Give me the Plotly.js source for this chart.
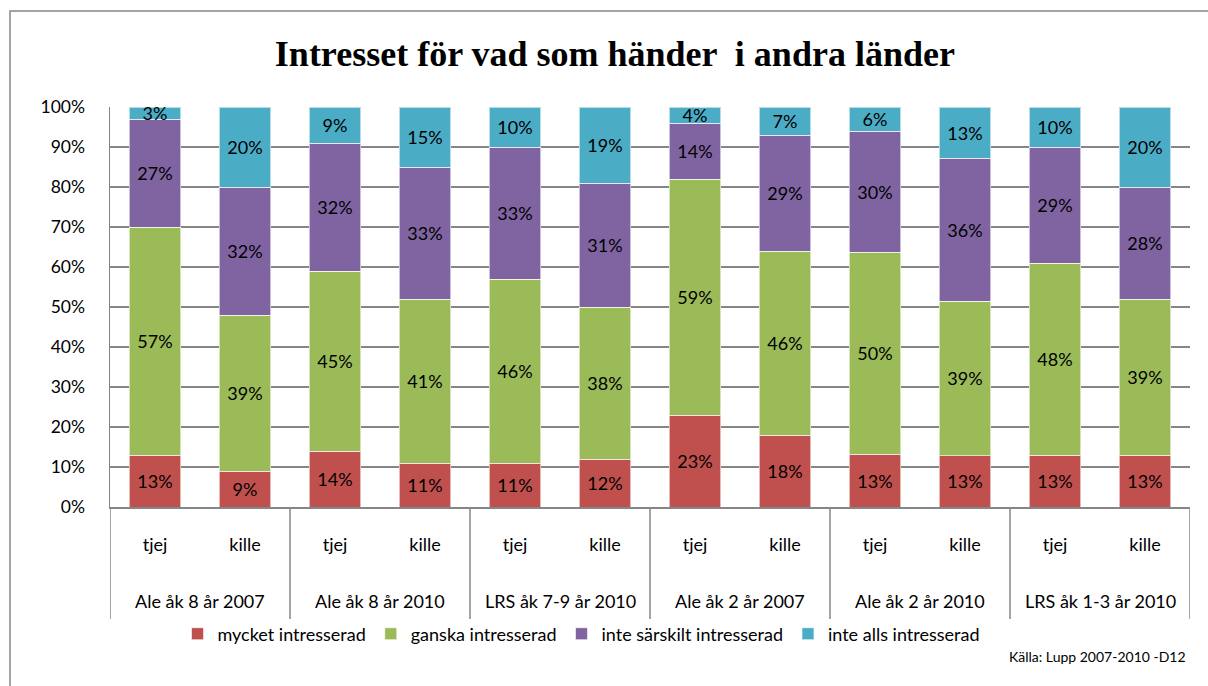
<!DOCTYPE html>
<html>
<head>
<meta charset="utf-8">
<script src="https://cdn.plot.ly/plotly-3.0.1.min.js"></script>
<style>
html,body{margin:0;padding:0;background:#fff;}
#chart{width:1208px;height:686px;}
</style>
</head>
<body>
<div id="chart"></div>
<script>
const groups = ["Ale åk 8 år 2007","Ale åk 8 år 2010","LRS åk 7-9 år 2010","Ale åk 2 år 2007","Ale åk 2 år 2010","LRS åk 1-3 år 2010"];
const genders = ["tjej","kille"];
const seriesNames = ["mycket intresserad","ganska intresserad","inte särskilt intresserad","inte alls intresserad"];
const seriesColors = ["#C0504D","#9BBB59","#8064A2","#4BACC6"];
const yTickVals = [0,10,20,30,40,50,60,70,80,90,100];
const yTickText = ['0%','10%','20%','30%','40%','50%','60%','70%','80%','90%','100%'];

const mycket      = [13, 9, 14, 11, 11, 12, 23, 18, 13, 13, 13, 13];
const ganska      = [57, 39, 45, 41, 46, 38, 59, 46, 50, 39, 48, 39];
const inteSarskilt= [27, 32, 32, 33, 33, 31, 14, 29, 30, 36, 29, 28];
const inteAlls    = [ 3, 20,  9, 15, 10, 19,  4,  7,  6, 13, 10, 20];

const allSeries = [mycket, ganska, inteSarskilt, inteAlls];

const xKeys = [], xSub = [];
groups.forEach(g => genders.forEach(s => { xKeys.push(g + ' ' + s); xSub.push(s); }));

const font = "Lato, 'Open Sans', 'Liberation Sans', sans-serif";
const gray = '#868686';

const traces = allSeries.map((vals, i) => ({
  type: 'bar',
  name: seriesNames[i],
  x: xKeys,
  y: vals,
  text: vals.map(v => v + '%'),
  textposition: 'inside',
  insidetextanchor: 'middle',
  textangle: 0,
  textfont: {family: font, size: 18, color: '#000'},
  marker: {color: seriesColors[i], line: {color: 'rgba(255,255,255,0.6)', width: 1}},
  hoverinfo: 'skip'
}));

const axisBottomPx = 507, plotHeightPx = 400;
const py = px => (axisBottomPx - px) / plotHeightPx;

const annotations = groups.map((g, i) => ({
  text: g, xref: 'x', yref: 'paper', x: 2 * i + 0.5, y: py(601), yanchor: 'middle',
  xanchor: 'center', showarrow: false, font: {family: font, size: 18, color: '#000'}
}));
annotations.push({
  text: 'Källa: Lupp 2007-2010 -D12', xref: 'paper', yref: 'paper',
  x: (1188 - 110) / 1080, xanchor: 'right', y: py(656), yanchor: 'middle', showarrow: false,
  font: {family: font, size: 14, color: '#000'}
});

const shapes = [];
for (let i = 0; i <= groups.length; i++) {
  shapes.push({
    type: 'line', xref: 'x', yref: 'paper', x0: 2 * i - 0.5, x1: 2 * i - 0.5,
    y0: 0, y1: py(619), line: {color: gray, width: 1.5}
  });
}
shapes.push({
  type: 'rect', xref: 'paper', yref: 'paper',
  x0: (10 - 110) / 1080, x1: (1240 - 110) / 1080,
  y0: py(720), y1: py(11),
  line: {color: gray, width: 1.5}, fillcolor: 'rgba(0,0,0,0)', layer: 'below'
});

const layout = {
  width: 1208, height: 686,
  margin: {l: 110, r: 18, t: 107, b: 179},
  paper_bgcolor: '#fff', plot_bgcolor: '#fff',
  barmode: 'stack',
  barnorm: 'percent',
  bargap: 0.43,
  uniformtext: {mode: 'show', minsize: 18},
  title: {
    text: '<b>Intresset för vad som händer  i andra länder</b>',
    font: {family: "'Liberation Serif', 'DejaVu Serif', serif", size: 36, color: '#000'},
    x: 0.509, xanchor: 'center', y: 0.922, yanchor: 'middle'
  },
  font: {family: font, size: 18, color: '#000'},
  xaxis: {
    type: 'category',
    range: [-0.5, xKeys.length - 0.5],
    tickvals: xKeys, ticktext: xSub,
    showgrid: false,
    showline: true, linecolor: gray, linewidth: 1.5,
    ticks: '', ticklabelstandoff: 21,
    tickfont: {family: font, size: 18, color: '#000'},
    automargin: false
  },
  yaxis: {
    range: [0, 100],
    tickvals: yTickVals, ticktext: yTickText,
    showgrid: true, gridcolor: gray, gridwidth: 1.5,
    showline: true, linecolor: gray, linewidth: 1.5,
    zeroline: false, ticks: '', ticklabelstandoff: 20,
    tickfont: {family: font, size: 17.5, color: '#000'},
    automargin: false
  },
  showlegend: true,
  legend: {
    orientation: 'h', x: (581 - 110) / 1080, xanchor: 'center', y: py(634), yanchor: 'middle',
    font: {family: font, size: 18, color: '#000'},
    itemwidth: 30, traceorder: 'normal',
    bgcolor: 'rgba(0,0,0,0)'
  },
  annotations: annotations,
  shapes: shapes
};

Plotly.newPlot('chart', traces, layout, {displayModeBar: false, staticPlot: true});
</script>
</body>
</html>
